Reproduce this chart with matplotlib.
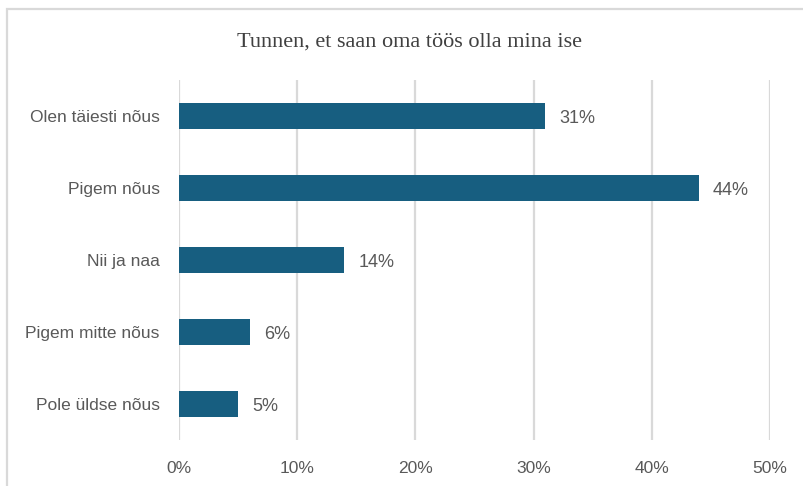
import matplotlib.pyplot as plt
from matplotlib.patches import Rectangle

# survey answers, top to bottom as shown
categories = ["Olen täiesti nõus", "Pigem nõus", "Nii ja naa", "Pigem mitte nõus", "Pole üldse nõus"]
shares = [31, 44, 14, 6, 5]
x_ticks = [0, 10, 20, 30, 40, 50]
title = "Tunnen, et saan oma töös olla mina ise"

bar_color = "#175e80"
text_color = "#595959"
grid_color = "#d9d9d9"

fig = plt.figure(figsize=(8.04, 4.86), dpi=100)
ax = fig.add_axes([179 / 804, 1 - 440 / 486, (770 - 179) / 804, (440 - 80) / 486])

pos = list(range(len(categories)))
ax.barh(pos, shares, height=0.36, color=bar_color, zorder=3)

for p, v in zip(pos, shares):
    ax.annotate(f"{v}%", (v, p), xytext=(10, -1.5), textcoords="offset points",
                va="center", ha="left", fontsize=13, color=text_color,
                family="Liberation Sans")

ax.set_xlim(0, 50)
ax.set_ylim(len(categories) - 0.5, -0.5)
ax.set_xticks(x_ticks)
ax.set_xticklabels([f"{t}%" for t in x_ticks], fontsize=12.5, color=text_color, family="Liberation Sans")
ax.set_yticks(pos)
ax.set_yticklabels(categories, fontsize=12.5, color=text_color, family="Liberation Sans")
ax.tick_params(axis="x", length=0, pad=15)
ax.tick_params(axis="y", length=0, pad=14)
ax.grid(axis="x", color=grid_color, linewidth=1.6, zorder=0)
for s in ax.spines.values():
    s.set_visible(False)

fig.text(410 / 804, 1 - 42 / 486, title, ha="center", va="center",
         fontsize=16, color="#404040", family="Liberation Serif")

# chart frame (only top and left edges are inside the crop)
fig.patches.append(Rectangle((7 / 804, -0.1), 1.2, 1.1 - 9 / 486, transform=fig.transFigure,
                             fill=False, edgecolor=grid_color, linewidth=1.6))

fig.savefig("out.png", dpi=100)
